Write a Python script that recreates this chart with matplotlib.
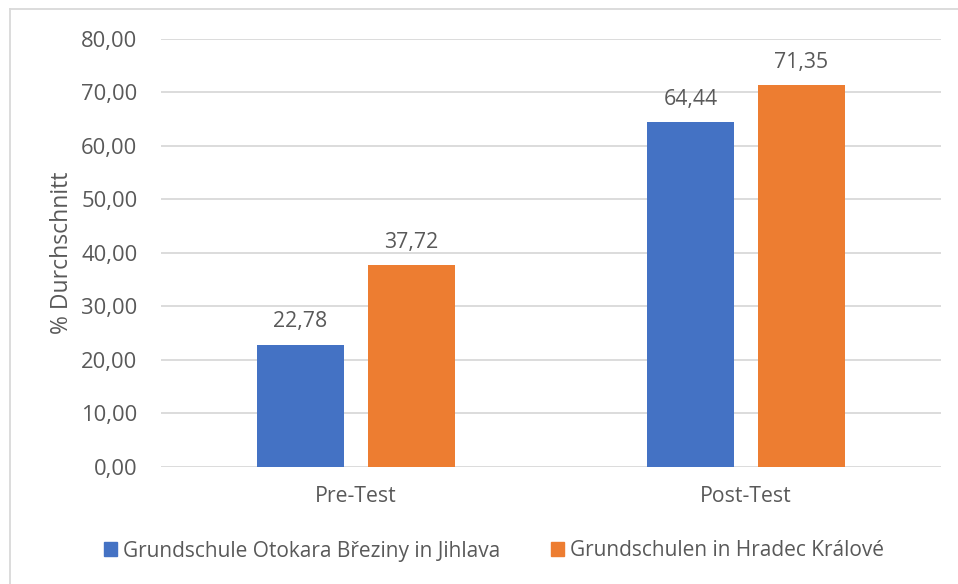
import matplotlib
matplotlib.use("Agg")
import matplotlib.pyplot as plt
from matplotlib.lines import Line2D
from matplotlib.patches import Patch
import numpy as np

categories = ["Pre-Test", "Post-Test"]
series_names = ["Grundschule Otokara Březiny in Jihlava", "Grundschulen in Hradec Králové"]
jihlava = [22.78, 64.44]
hradec = [37.72, 71.35]
yticks = [0, 10, 20, 30, 40, 50, 60, 70, 80]

plt.rcParams['font.family'] = ['Open Sans', 'DejaVu Sans']
TXT = '#595959'
BLUE = '#4472C4'
ORANGE = '#ED7D31'

W, H = 958, 584
fig = plt.figure(figsize=(W/100, H/100), dpi=100)
ax = fig.add_axes([161/W, (H-466.7)/H, 780/W, (466.7-39)/H])

x = np.arange(len(categories))
bw = 0.223
off = 0.142
b1 = ax.bar(x - off, jihlava, bw, color=BLUE, zorder=3)
b2 = ax.bar(x + off, hradec, bw, color=ORANGE, zorder=3)

def fmt(v):
    return f"{v:.2f}".replace('.', ',')

for bars, vals in ((b1, jihlava), (b2, hradec)):
    for r, v in zip(bars, vals):
        ax.annotate(fmt(v), (r.get_x() + r.get_width()/2, v), xytext=(0, 9),
                    textcoords='offset points', ha='center', va='bottom',
                    fontsize=15.3, color=TXT)

ax.set_xlim(-0.5, 1.5)
ax.set_ylim(0, 80)
ax.set_yticks(yticks)
ax.set_yticklabels([fmt(v) for v in yticks])
ax.set_xticks(x)
ax.set_xticklabels(categories)
ax.tick_params(axis='both', length=0, colors=TXT, labelsize=15.3)
ax.tick_params(axis='y', pad=17, labelsize=15.8)
ax.tick_params(axis='x', pad=14)
ax.grid(axis='y', color='#D9D9D9', linewidth=1.3, zorder=0)
for s in ax.spines.values():
    s.set_visible(False)
ax.set_ylabel('% Durchschnitt', fontsize=16.5, color=TXT, labelpad=5)

handles = [Patch(color=BLUE), Patch(color=ORANGE)]
fig.legend(handles, series_names, loc='center', bbox_to_anchor=(494/W, (H-551)/H),
           ncol=2, frameon=False, fontsize=15, labelcolor=TXT,
           handlelength=0.65, handleheight=0.65, handletextpad=0.3, columnspacing=2.4)

# outer chart border (top and left visible)
fig.add_artist(Line2D([10/W, 10/W], [0, (H-9)/H], transform=fig.transFigure, color='#D9D9D9', lw=1.3))
fig.add_artist(Line2D([10/W, 1], [(H-9)/H, (H-9)/H], transform=fig.transFigure, color='#D9D9D9', lw=1.3))

fig.savefig('out.png', dpi=100)
